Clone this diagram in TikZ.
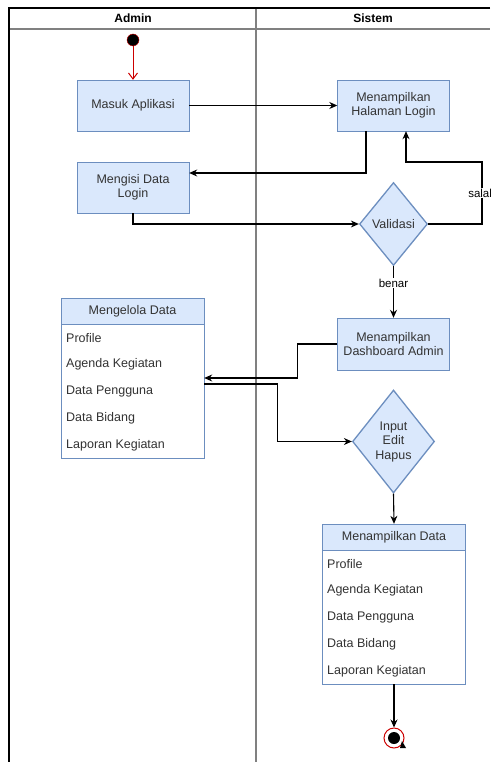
\documentclass[tikz,border=0pt]{standalone}
\usepackage{fontspec}
\setmainfont{Liberation Sans}
\usetikzlibrary{arrows.meta,shapes.geometric}
\definecolor{boxfill}{HTML}{DAE8FC}
\definecolor{boxline}{HTML}{6C8EBF}
\definecolor{txtgrey}{HTML}{333333}
\definecolor{lanegrey}{HTML}{808080}
\definecolor{startred}{HTML}{CC0000}
\tikzstyle{action}=[rectangle,draw=boxline,fill=boxfill,minimum width=112pt,minimum height=51pt,inner sep=2pt,align=center,text=txtgrey,font=\fontsize{12.5}{14.5}\selectfont]
\tikzstyle{decision}=[diamond,draw=boxline,fill=boxfill,line width=1.3pt,inner sep=0pt,align=center,text=txtgrey,font=\fontsize{12.5}{14.5}\selectfont]
\tikzstyle{listbody}=[rectangle,draw=boxline,fill=white,minimum width=143pt,minimum height=160pt,inner sep=0pt]
\tikzstyle{listhead}=[rectangle,draw=boxline,fill=boxfill,minimum width=143pt,minimum height=26pt,inner sep=0pt,text=txtgrey,font=\fontsize{12.5}{14.5}\selectfont]
\tikzstyle{item}=[anchor=west,inner sep=0pt,text=txtgrey,font=\fontsize{12.5}{14.5}\selectfont]
\tikzstyle{flow}=[draw,line width=1.1pt,-{Stealth[length=8pt,width=7pt]}]
\tikzstyle{guard}=[fill=white,inner sep=1pt,font=\fontsize{11.5}{13}\selectfont]
\tikzstyle{lanehead}=[font=\bfseries\fontsize{12}{14}\selectfont]

\begin{document}
\begin{tikzpicture}[x=1pt,y=-1pt]
   \useasboundingbox (0,0) rectangle (490,762);
   \clip (0,0) rectangle (490,762);

   % swimlanes
   \draw[lanegrey,line width=1.5pt] (9,29) -- (490,29);
   \draw[lanegrey,line width=1.8pt] (256,8) -- (256,762);
   \draw[black,line width=1.3pt] (490,8) -- (9,8) -- (9,762);
   \node[lanehead] (admin) at (133,18) {Admin};
   \node[lanehead] (sistem) at (373,18) {Sistem};

   % start and activities
   \node[circle,fill=black,draw=startred,minimum size=12pt,inner sep=0pt] (mulai) at (133,40) {};
   \node[action] (masuk) at (133,105.5) {Masuk Aplikasi};
   \node[action] (halaman) at (393.5,105.5) {Menampilkan\\Halaman Login};
   \node[action] (mengisi) at (133,187.5) {Mengisi Data\\Login};
   \node[decision,minimum width=68pt,minimum height=83pt] (validasi) at (393.5,224) {Validasi};
   \node[action,minimum height=52pt] (dashboard) at (393.5,344) {Menampilkan\\Dashboard Admin};
   \node[decision,minimum width=82pt,minimum height=103pt] (input) at (393.5,441.5) {Input\\Edit\\Hapus};

   % list boxes
   \node[listbody] (mengelola) at (132.5,378) {};
   \node[listhead,anchor=north] (mengelolahead) at (mengelola.north) {Mengelola Data};
   \node[listbody] (tampil) at (394,604) {};
   \node[listhead,anchor=north] (tampilhead) at (tampil.north) {Menampilkan Data};
   \foreach \i/\name in {0/Profile,1/Agenda Kegiatan,2/Data Pengguna,3/Data Bidang,4/Laporan Kegiatan} {
      \node[item] (mengelola\i) at (66,338+26.7*\i) {\name};
      \node[item] (tampil\i) at (327,564+26.7*\i) {\name};
   }

   % end
   \node[circle,draw=startred,fill=white,line width=1pt,minimum size=20pt,inner sep=0pt] (akhir) at (394,738) {};
   \node[circle,fill=black,minimum size=12pt,inner sep=0pt] (akhirdot) at (akhir.center) {};
   \fill[black] (400,748) -- (406,748) -- (402,741) -- cycle;

   % connectors
   \draw[startred,line width=1pt,-{Straight Barb[length=6pt,width=9pt]}] (mulai) -- (masuk);
   \path[flow] (masuk) -- (halaman);
   \path[flow] ([xshift=-27.5pt]halaman.south) |- ([yshift=14.5pt]mengisi.east);
   \path[flow] (mengisi.south) |- (validasi.west);
   \coordinate (salahpt) at (482,162);
   \path[flow] (validasi.east) -| node[guard,pos=0.75] {salah} (salahpt) -| ([xshift=12.5pt]halaman.south);
   \path[flow] (validasi.south) -- node[guard,pos=0.33] {benar} (dashboard.north);
   \path[flow] (dashboard.west) -- ++(-40,0) |- (mengelola.east);
   \path[flow] ([yshift=-6pt]mengelola.east) -- ++(73,0) |- (input.west);
   \path[flow] (input.south) -- (tampil.north);
   \path[flow] (tampil.south) -- (akhir.north);

\end{tikzpicture}
\end{document}
